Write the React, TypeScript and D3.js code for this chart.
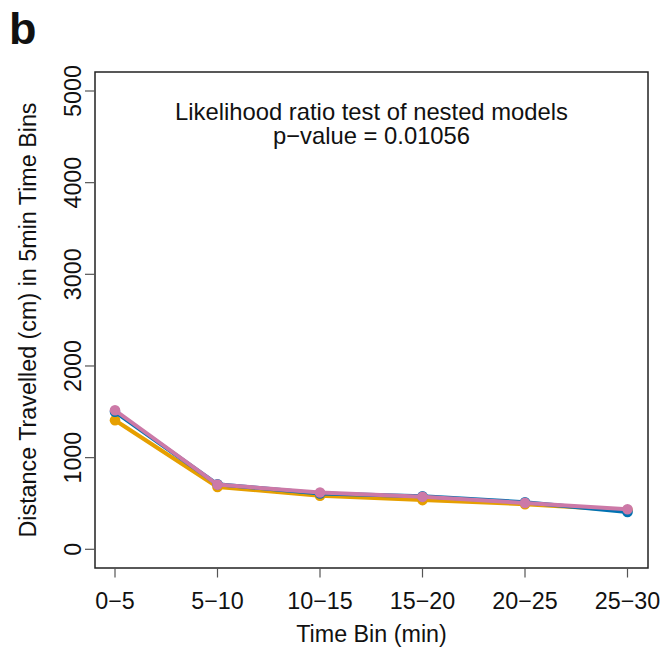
import React from "react";
import * as d3 from "d3";

const categories = ["0−5", "5−10", "10−15", "15−20", "20−25", "25−30"];
const yTicks = [0, 1000, 2000, 3000, 4000, 5000];
const orangeValues = [1408, 680, 585, 537, 492, 426];
const blueValues = [1500, 709, 608, 578, 514, 407];
const pinkValues = [1517, 706, 619, 572, 506, 437];
const seriesColors = ["#E69F00", "#0072B2", "#CC79A7"];

const W = 663;
const H = 649;
const box = { left: 95, right: 648, top: 72, bottom: 568 };
const FONT = "Liberation Sans, Arial, Helvetica, sans-serif";
const FS = 23.3;

export default function App() {
  const x = d3.scalePoint<string>().domain(categories).range([115, 627.5]);
  const y = d3.scaleLinear().domain([0, 5000]).range([549.3, 91]);
  const series = [orangeValues, blueValues, pinkValues];
  const line = d3
    .line<number>()
    .x((_, i) => x(categories[i]) as number)
    .y((v) => y(v));

  return (
    <svg width={W} height={H} style={{ position: "absolute", left: 0, top: 0 }}>
      <rect x={0} y={0} width={W} height={H} fill="#fff" />
      <text x={9} y={44} fontFamily={FONT} fontWeight="bold" fontSize={45} fill="#111">
        b
      </text>
      {series.map((vals, si) => (
        <g key={si}>
          <path d={line(vals) || ""} fill="none" stroke={seriesColors[si]} strokeWidth={4} strokeLinejoin="round" />
          {vals.map((v, i) => (
            <circle key={i} cx={x(categories[i])} cy={y(v)} r={5.3} fill={seriesColors[si]} />
          ))}
        </g>
      ))}
      <rect
        x={box.left}
        y={box.top}
        width={box.right - box.left}
        height={box.bottom - box.top}
        fill="none"
        stroke="#222"
        strokeWidth={1.5}
      />
      {yTicks.map((t) => (
        <g key={t}>
          <line x1={box.left - 10} x2={box.left} y1={y(t)} y2={y(t)} stroke="#555" strokeWidth={1.2} />
          <text
            transform={`translate(81,${y(t)}) rotate(-90)`}
            textAnchor="middle"
            fontFamily={FONT}
            fontSize={FS}
            fill="#111"
          >
            {t}
          </text>
        </g>
      ))}
      {categories.map((c) => (
        <g key={c}>
          <line x1={x(c)} x2={x(c)} y1={box.bottom} y2={box.bottom + 9.5} stroke="#555" strokeWidth={1.2} />
          <text x={x(c)} y={609} textAnchor="middle" fontFamily={FONT} fontSize={FS} fill="#111">
            {c}
          </text>
        </g>
      ))}
      <text x={371.5} y={642} textAnchor="middle" fontFamily={FONT} fontSize={FS} fill="#111">
        Time Bin (min)
      </text>
      <text
        transform={`translate(36,${(box.top + box.bottom) / 2}) rotate(-90)`}
        textAnchor="middle"
        fontFamily={FONT}
        fontSize={FS}
        fill="#111"
      >
        Distance Travelled (cm) in 5min Time Bins
      </text>
      <text x={371.5} y={120} textAnchor="middle" fontFamily={FONT} fontSize={23.8} fill="#111">
        Likelihood ratio test of nested models
      </text>
      <text x={371.5} y={144} textAnchor="middle" fontFamily={FONT} fontSize={23.8} fill="#111">
        p−value = 0.01056
      </text>
    </svg>
  );
}
